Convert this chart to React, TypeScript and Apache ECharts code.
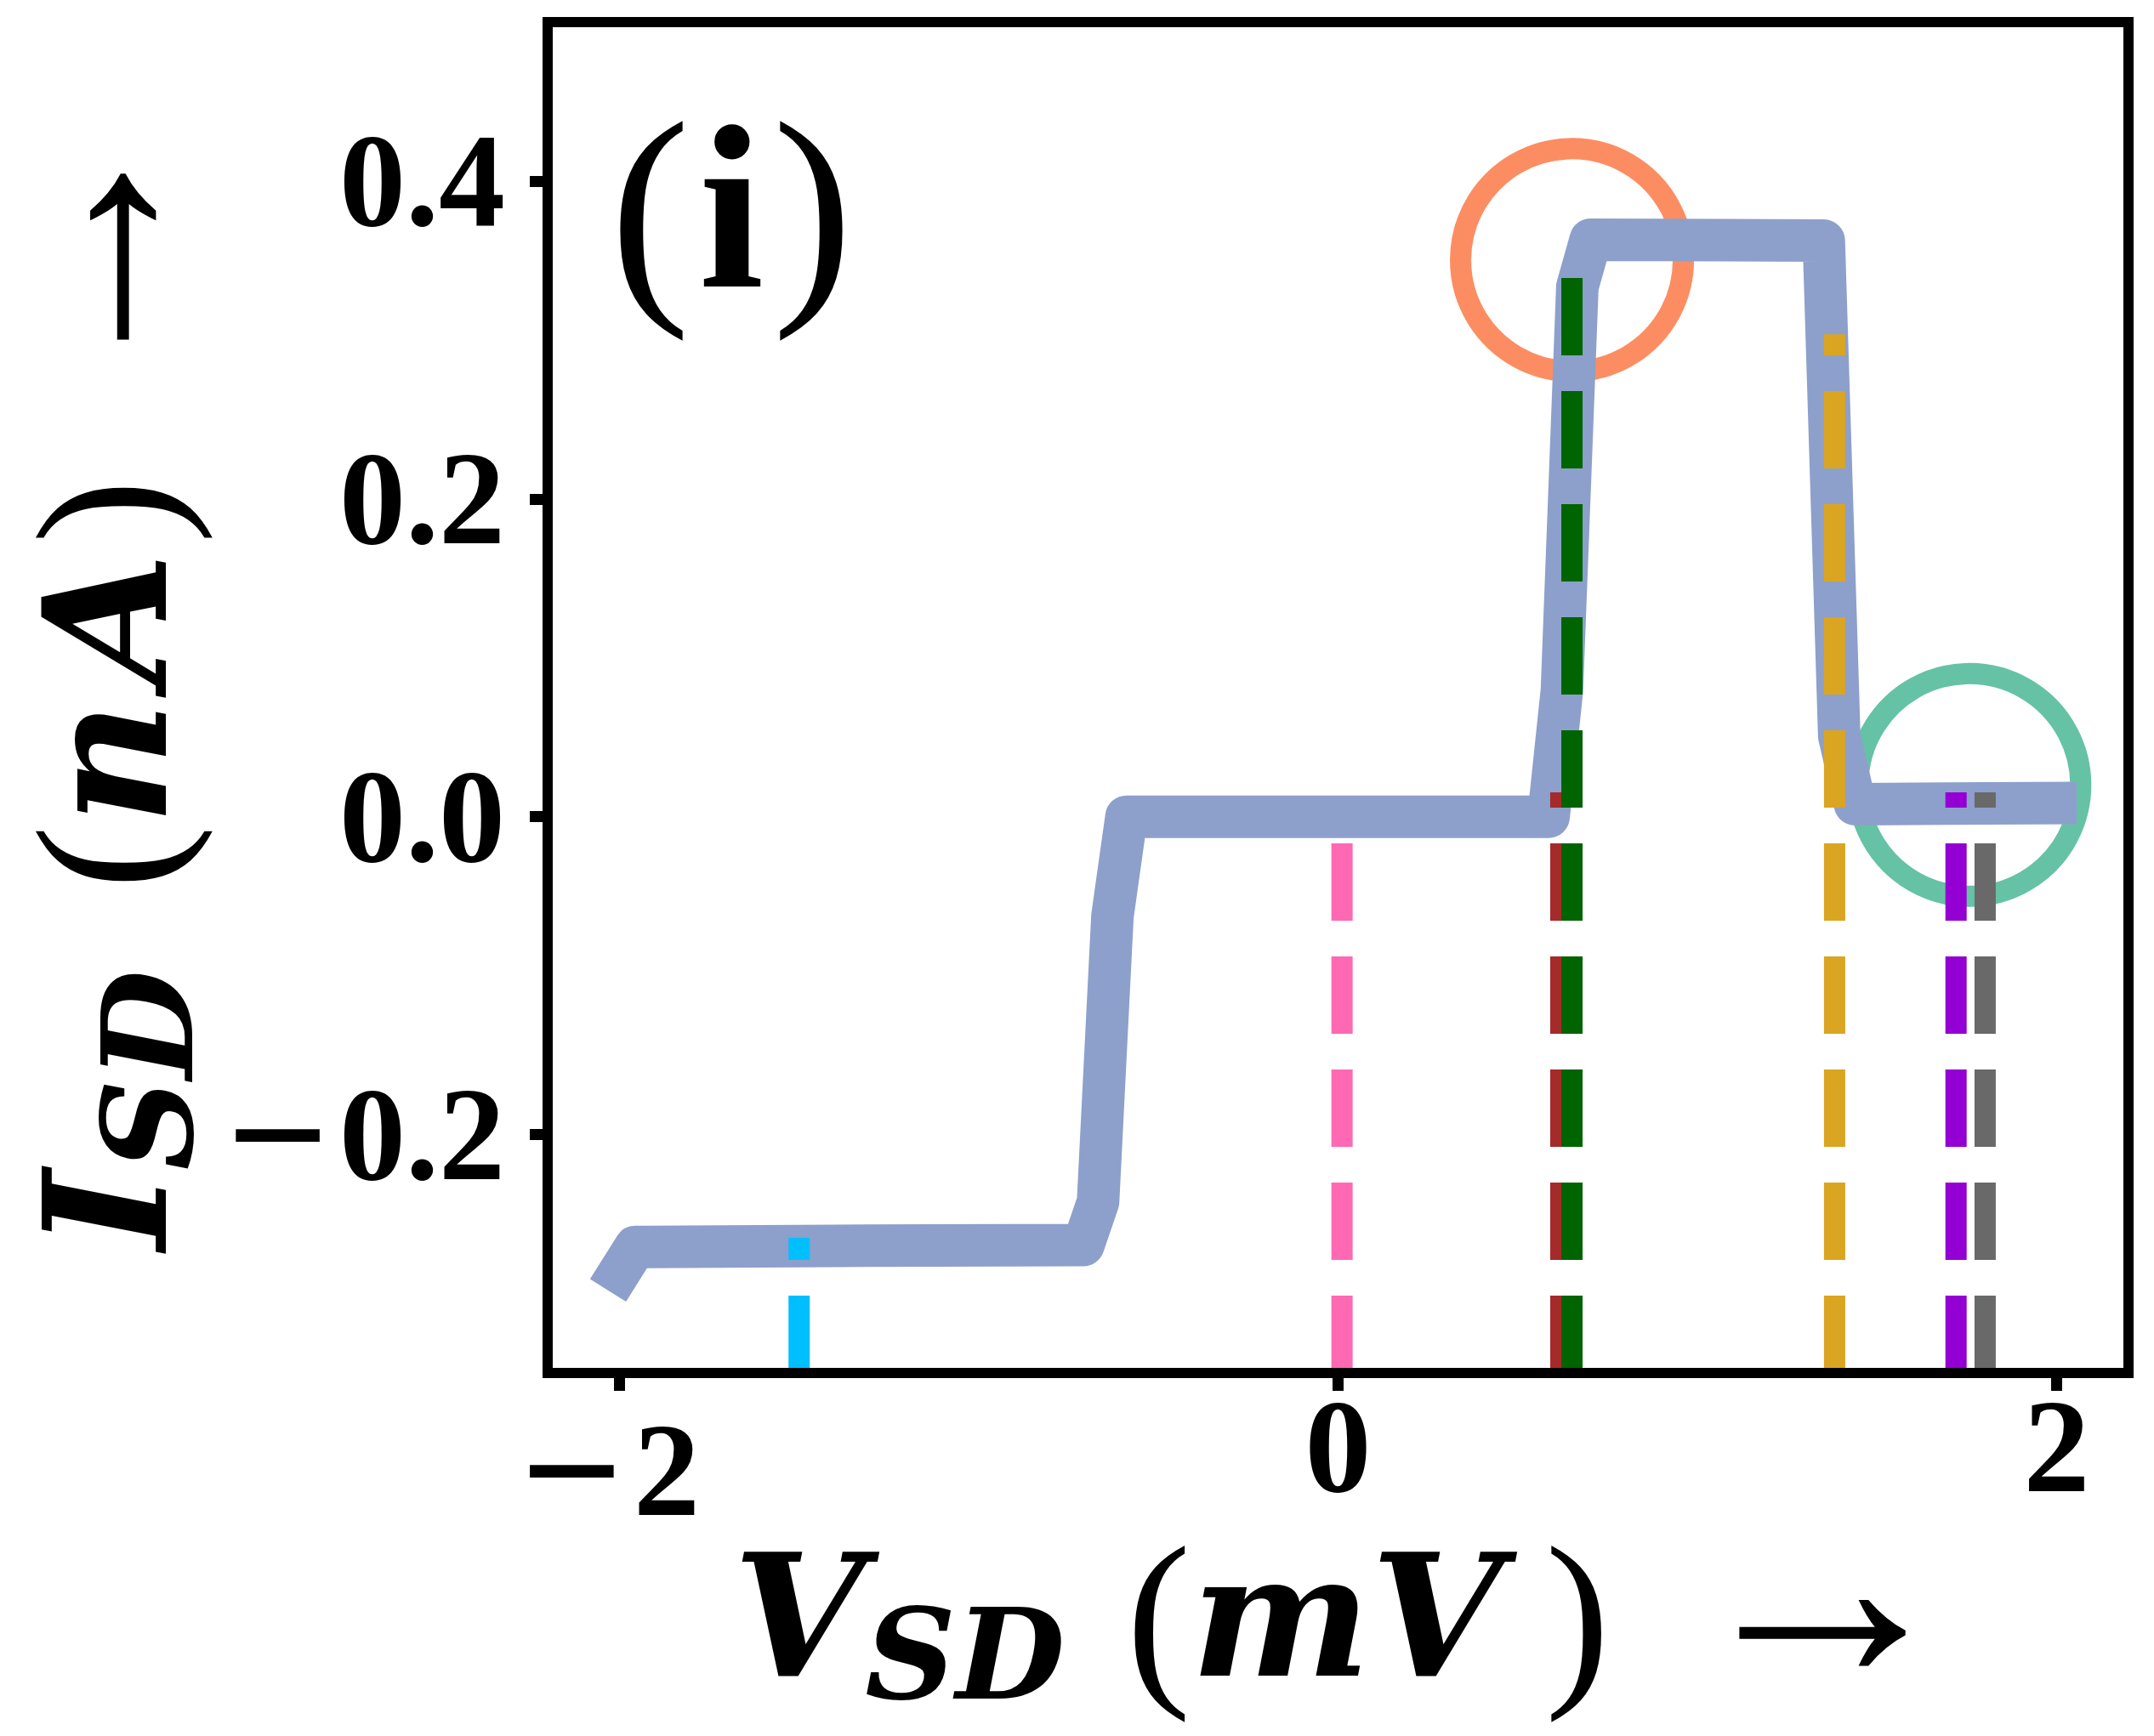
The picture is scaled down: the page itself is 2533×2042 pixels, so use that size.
import React, { useEffect, useRef } from 'react';
import * as echarts from 'echarts';

// Main I-V curve (V_SD in mV, I_SD in nA)
const curveV = [-2.032, -1.956, -1.4, -0.709, -0.668, -0.628, -0.589, 0.586, 0.623, 0.666, 0.703, 1.352, 1.395, 1.439, 2.056];
const curveI = [-0.298, -0.2707, -0.27, -0.2695, -0.2423, -0.0626, 0.0, 0.0, 0.0795, 0.3334, 0.3631, 0.3625, 0.0507, 0.0079, 0.0087];

// Vertical dashed markers: position and top end
const markerV = [-1.5, 0.011, 0.62, 0.651, 1.382, 1.72, 1.801];
const markerTop = [-0.265, 0.0, 0.0153, 0.35, 0.3035, 0.0153, 0.0153];
const markerColors = ['#00BFFF', '#FF69B4', '#A52A2A', '#006400', '#DAA520', '#9400D3', '#696969'];

// Highlight circles
const circleV = [0.651, 1.757];
const circleI = [0.3503, 0.02];
const circleColors = ['#fc8d62', '#66c2a5'];

const xTicks = [-2, 0, 2];
const yTicks = [-0.2, 0, 0.2, 0.4];
const X_MIN = -2.2;
const X_MAX = 2.2;
const Y_MIN = -0.35;
const Y_MAX = 0.5;

const FONT = 'Liberation Serif';
const MATH = 'DejaVu Serif';

function makeRich(L: number, subOffset: number, gapParen: number, gapClose: number, gapArrow: number, gapA: number) {
  const base = { fill: '#000', color: '#000' };
  return {
    b: { ...base, fontFamily: MATH, fontStyle: 'italic', fontWeight: 'bold', fontSize: 200, lineHeight: L },
    bA: { ...base, fontFamily: MATH, fontStyle: 'italic', fontWeight: 'bold', fontSize: 200, lineHeight: L, padding: [0, 0, 0, gapA] },
    s: {
      ...base,
      fontFamily: MATH,
      fontStyle: 'italic',
      fontWeight: 'bold',
      fontSize: 148,
      height: L - 2 * subOffset,
      lineHeight: L - 2 * subOffset,
      verticalAlign: 'bottom',
    },
    pl: { ...base, fontFamily: FONT, fontSize: 228, lineHeight: L, padding: [0, 0, 0, gapParen] },
    pr: { ...base, fontFamily: FONT, fontSize: 228, lineHeight: L, padding: [0, 0, 0, gapClose] },
    a: {
      ...base,
      fontFamily: FONT,
      fontSize: 330,
      height: L - 72,
      lineHeight: L - 72,
      verticalAlign: 'top',
      padding: [0, 0, 0, gapArrow],
    },
  };
}

export default function App() {
  const ref = useRef<HTMLDivElement>(null);

  useEffect(() => {
    const chart = echarts.init(ref.current!, null, { renderer: 'svg' });

    const frameLine = { color: '#000', width: 12, cap: 'square' };
    const tickFont = { fontFamily: FONT, fontWeight: 'bold', color: '#000' };
    const labelStyle = {
      ...tickFont,
      fontSize: 156,
      rich: {
        m: { ...tickFont, fontSize: 212, padding: [0, 12, 0, 0] },
        d: { ...tickFont, fontSize: 156, padding: [0, 22, 0, 0] },
      },
    };

    const xRich = makeRich(180, 46, 72, 50, 85, 0);
    const yRich = makeRich(180, 50, 95, 10, 97, 20);

    const series: any[] = [];
    series.push({
      type: 'scatter',
      silent: true,
      z: 2,
      symbol: 'circle',
      symbolSize: 262,
      data: circleV.map((v, i) => ({
        value: [v, circleI[i]],
        itemStyle: { color: 'rgba(0,0,0,0)', borderColor: circleColors[i], borderWidth: 25, opacity: 1 },
      })),
    });
    series.push({
      type: 'line',
      silent: true,
      z: 3,
      symbol: 'none',
      showSymbol: false,
      data: curveV.map((v, i) => [v, curveI[i]]),
      lineStyle: { color: '#8da0cb', width: 50, cap: 'butt', join: 'round', opacity: 1 },
    });
    markerV.forEach((v, i) => {
      series.push({
        type: 'line',
        silent: true,
        z: 4,
        symbol: 'none',
        showSymbol: false,
        data: [
          [v, Y_MIN],
          [v, markerTop[i]],
        ],
        lineStyle: { color: markerColors[i], width: 25, type: [91, 42], cap: 'butt' },
      });
    });

    const option: any = {
      animation: false,
      backgroundColor: '#ffffff',
      grid: { left: 644, top: 26, width: 1859, height: 1589, show: false },
      xAxis: [
        {
          type: 'value',
          min: X_MIN,
          max: X_MAX,
          position: 'bottom',
          z: 10,
          axisLine: { show: true, onZero: false, lineStyle: frameLine },
          axisTick: { show: true, inside: false, length: 21, customValues: xTicks, lineStyle: { color: '#000', width: 13 } },
          axisLabel: {
            show: true,
            customValues: xTicks,
            margin: 8,
            ...labelStyle,
            formatter: (v: number) => (v < 0 ? '{m|\u2212}{d|' + Math.abs(v) + '}' : String(v)),
          },
          splitLine: { show: false },
        },
        {
          type: 'value',
          min: X_MIN,
          max: X_MAX,
          position: 'top',
          z: 10,
          axisLine: { show: true, onZero: false, lineStyle: frameLine },
          axisTick: { show: false },
          axisLabel: { show: false },
          splitLine: { show: false },
        },
      ],
      yAxis: [
        {
          type: 'value',
          min: Y_MIN,
          max: Y_MAX,
          position: 'left',
          z: 10,
          axisLine: { show: true, onZero: false, lineStyle: frameLine },
          axisTick: { show: true, inside: false, length: 21, customValues: yTicks, lineStyle: { color: '#000', width: 13 } },
          axisLabel: {
            show: true,
            customValues: yTicks,
            margin: 50,
            ...labelStyle,
            formatter: (v: number) => (v < -1e-9 ? '{m|\u2212}' + Math.abs(v).toFixed(1) : Math.abs(v).toFixed(1)),
          },
          splitLine: { show: false },
        },
        {
          type: 'value',
          min: Y_MIN,
          max: Y_MAX,
          position: 'right',
          z: 10,
          axisLine: { show: true, onZero: false, lineStyle: frameLine },
          axisTick: { show: false },
          axisLabel: { show: false },
          splitLine: { show: false },
        },
      ],
      series,
      graphic: [
        {
          type: 'text',
          x: 862,
          y: 1900,
          z: 20,
          style: {
            text: '{b|V}{s|SD}{pl|(}{b|mV}{pr|)}{a|\u2192}',
            align: 'left',
            verticalAlign: 'middle',
            textAlign: 'left',
            textVerticalAlign: 'middle',
            fill: '#000',
            rich: xRich,
          },
        },
        {
          type: 'text',
          x: 124,
          y: 1470,
          rotation: Math.PI / 2,
          z: 20,
          style: {
            text: '{b|I}{s|SD}{pl|(}{b|n}{bA|A}{pr|)}{a|\u2192}',
            align: 'left',
            verticalAlign: 'middle',
            textAlign: 'left',
            textVerticalAlign: 'middle',
            fill: '#000',
            rich: yRich,
          },
        },
        {
          type: 'text',
          x: 860,
          y: 244,
          z: 20,
          style: {
            text: '{p|(}{i|i}{p|)}',
            align: 'center',
            verticalAlign: 'middle',
            textAlign: 'center',
            textVerticalAlign: 'middle',
            fill: '#000',
            rich: {
              p: { fontFamily: FONT, fontSize: 285, fill: '#000', color: '#000' },
              i: { fontFamily: FONT, fontWeight: 'bold', fontSize: 275, fill: '#000', color: '#000', padding: [0, 10, 0, 10] },
            },
          },
        },
      ],
    };

    chart.setOption(option);
    return () => chart.dispose();
  }, []);

  return (
    <div
      ref={ref}
      style={{ position: 'fixed', left: 0, top: 0, width: 2533, height: 2042, background: '#fff' }}
    />
  );
}
